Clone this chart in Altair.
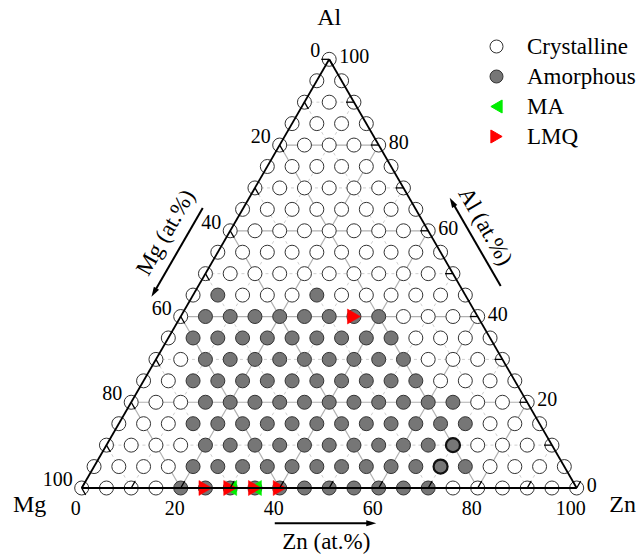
import numpy as np
import pandas as pd
import altair as alt

# ---------------- data ----------------
grid_step = 5  # compositions every 5 at.% (Mg = balance)
amorph_rows_al = [0, 5, 10, 15, 20, 25, 30, 35, 40, 45]
amorph_rows_zn = [
    [20, 25, 30, 35, 40, 45, 50, 55, 60, 65, 70],
    [20, 25, 30, 35, 40, 45, 50, 55, 60, 65, 70, 75],
    [20, 25, 30, 35, 40, 45, 50, 55, 60, 65, 70],
    [15, 20, 25, 30, 35, 40, 45, 50, 55, 60, 65, 70],
    [15, 20, 25, 30, 35, 40, 45, 50, 55, 60, 65],
    [10, 15, 20, 25, 30, 35, 40, 45, 50, 55],
    [10, 15, 20, 25, 30, 35, 40, 45, 50],
    [5, 10, 15, 20, 25, 30, 35, 40, 45],
    [5, 10, 15, 20, 25, 30, 35, 40],
    [5, 25],
]
bold_al = [5, 10]
bold_zn = [70, 70]
ma_al = [0, 0]
ma_zn = [30, 35]
lmq_al = [0, 0, 0, 0, 40]
lmq_zn = [25, 30, 35, 40, 35]

tick_values = [0, 20, 40, 60, 80, 100]
minor_ticks = [0, 10, 20, 30, 40, 50, 60, 70, 80, 90, 100]
grid_values = [10, 20, 30, 40, 50, 60, 70, 80, 90]
legend_labels = ["Crystalline", "Amorphous", "MA", "LMQ"]
vertex_labels = ["Mg", "Zn", "Al"]
axis_titles = ["Zn (at.%)", "Mg (at.%)", "Al (at.%)"]

# ---------------- geometry helpers ----------------
H = np.sqrt(3) / 2


def tx(al, zn):
    return zn + al / 2.0


def ty(al, zn):
    return al * H


PX = 4.95  # pixels per composition unit
X0, Y0 = 81.7, 488.0
W, HT = 639, 554
xs = alt.Scale(domain=[-X0 / PX, (W - X0) / PX], nice=False, zero=False)
ys = alt.Scale(domain=[-(HT - Y0) / PX, Y0 / PX], nice=False, zero=False)
FONT = "Liberation Serif"

amorph = {(a, z) for a, zs in zip(amorph_rows_al, amorph_rows_zn) for z in zs}
rows = []
for al in range(0, 101, grid_step):
    for zn in range(0, 101 - al, grid_step):
        rows.append(dict(X=tx(al, zn), Y=ty(al, zn),
                         cls="Amorphous" if (al, zn) in amorph else "Crystalline"))
pts = pd.DataFrame(rows)

mk = pd.DataFrame(
    [dict(X=tx(a, z), Y=ty(a, z), cls="MA") for a, z in zip(ma_al, ma_zn)]
    + [dict(X=tx(a, z), Y=ty(a, z), cls="LMQ") for a, z in zip(lmq_al, lmq_zn)]
)
bold = pd.DataFrame([dict(X=tx(a, z), Y=ty(a, z)) for a, z in zip(bold_al, bold_zn)])

gl = []
for v in grid_values:
    major = v % 20 == 0
    gl.append(dict(X=tx(v, 0), Y=ty(v, 0), X2=tx(v, 100 - v), Y2=ty(v, 100 - v), major=major))
    gl.append(dict(X=tx(0, v), Y=ty(0, v), X2=tx(100 - v, v), Y2=ty(100 - v, v), major=major))
    gl.append(dict(X=tx(0, 100 - v), Y=ty(0, 100 - v), X2=tx(100 - v, 0), Y2=ty(100 - v, 0), major=major))
gl = pd.DataFrame(gl)

edges = pd.DataFrame([
    dict(X=0, Y=0, X2=100, Y2=0),
    dict(X=0, Y=0, X2=50, Y2=100 * H),
    dict(X=100, Y=0, X2=50, Y2=100 * H),
])

L = 1.6
tk = []
for v in minor_ticks:
    x, y = tx(0, v), 0
    tk.append(dict(X=x, Y=y, X2=x + 0.5 * L, Y2=y + H * L))
    x, y = tx(v, 100 - v), ty(v, 100 - v)
    tk.append(dict(X=x, Y=y, X2=x - L, Y2=y))
    x, y = tx(100 - v, 0), ty(100 - v, 0)
    tk.append(dict(X=x, Y=y, X2=x + 0.5 * L, Y2=y - H * L))
tk = pd.DataFrame(tk)

zn_lab = pd.DataFrame([dict(X=tx(0, v), Y=0.0, t=str(v)) for v in tick_values])
al_lab = pd.DataFrame([dict(X=tx(v, 100 - v), Y=ty(v, 100 - v), t=str(v)) for v in tick_values])
mg_lab = pd.DataFrame([dict(X=tx(100 - v, 0), Y=ty(100 - v, 0), t=str(v)) for v in tick_values])

vtx = pd.DataFrame([
    dict(X=0, Y=0, t=vertex_labels[0], dx=-52, dy=17),
    dict(X=100, Y=0, t=vertex_labels[1], dx=46, dy=17),
    dict(X=50, Y=100 * H, t=vertex_labels[2], dx=0, dy=-41),
])

P_MG, P_ZN, P_AL = np.array([0.0, 0.0]), np.array([100.0, 0.0]), np.array([50.0, 100 * H])


def along(p0, p1, f, normal, off):
    return p0 + (p1 - p0) * f + normal * off


N_BOT = np.array([0.0, -1.0])
N_LEFT = np.array([-H, 0.5])
N_RIGHT = np.array([H, 0.5])
OFF_A = 7.1
arrows_def = [
    (P_MG, P_ZN, 0.39, 0.595, N_BOT, 0),
    (P_MG, P_AL, 0.612, 0.405, N_LEFT, 120),
    (P_ZN, P_AL, 0.43, 0.636, N_RIGHT, 240),
]
arr_lines, arr_heads = [], []
for p0, p1, ft, fh, nrm, ang in arrows_def:
    t = along(p0, p1, ft, nrm, OFF_A)
    h = along(p0, p1, fh, nrm, OFF_A)
    d = (h - t) / np.linalg.norm(h - t)
    hc = h - d * 1.0
    arr_lines.append(dict(X=t[0], Y=t[1], X2=hc[0], Y2=hc[1]))
    arr_heads.append(dict(X=hc[0], Y=hc[1], ang=ang))
arr_lines = pd.DataFrame(arr_lines)
arr_heads = pd.DataFrame(arr_heads)

ttl = []
for (p0, p1, f, nrm, off, ang), txt in zip(
        [(P_MG, P_ZN, 0.494, N_BOT, 10.85, 0),
         (P_MG, P_AL, 0.532, N_LEFT, 11.1, 300),
         (P_ZN, P_AL, 0.55, N_RIGHT, 10.4, 60)], axis_titles):
    p = along(p0, p1, f, nrm, off)
    ttl.append(dict(X=p[0], Y=p[1], t=txt, ang=ang))
ttl = pd.DataFrame(ttl)

# ---------------- chart ----------------
X = alt.X("X:Q", scale=xs, axis=None)
Y = alt.Y("Y:Q", scale=ys, axis=None)

grid_major = alt.Chart(gl[gl.major]).mark_rule(color="#b0b0b0", strokeWidth=1.2).encode(
    x=X, y=Y, x2="X2:Q", y2="Y2:Q")
grid_minor = alt.Chart(gl[~gl.major]).mark_rule(color="#cfcfcf", strokeWidth=1, strokeDash=[3, 3]).encode(
    x=X, y=Y, x2="X2:Q", y2="Y2:Q")

leg = alt.Legend(title=None, labelFont=FONT, labelFontSize=23, labelColor="black")
fill_enc = alt.Fill("cls:N", scale=alt.Scale(domain=legend_labels,
                    range=["#ffffff", "#767676", "#00ee00", "#ff0000"]), legend=leg)
stroke_enc = alt.Stroke("cls:N", scale=alt.Scale(domain=legend_labels,
                        range=["#333333", "#333333", "#00ee00", "#ff0000"]), legend=leg)
shape_enc = alt.Shape("cls:N", scale=alt.Scale(domain=legend_labels,
                      range=["circle", "circle", "triangle-left", "triangle-right"]), legend=leg)

circles = alt.Chart(pts).mark_point(filled=True, size=196, strokeWidth=1, opacity=1).encode(
    x=X, y=Y, fill=fill_enc, stroke=stroke_enc, shape=shape_enc)
bold_c = alt.Chart(bold).mark_point(filled=True, size=196, strokeWidth=2.2, opacity=1,
                                    fill="#767676", stroke="#111111", shape="circle").encode(x=X, y=Y)
markers = alt.Chart(mk).mark_point(filled=True, size=225, strokeWidth=0.5, opacity=1).encode(
    x=X, y=Y, fill=fill_enc, stroke=stroke_enc, shape=shape_enc)

edge_l = alt.Chart(edges).mark_rule(color="black", strokeWidth=1.8).encode(x=X, y=Y, x2="X2:Q", y2="Y2:Q")
tick_l = alt.Chart(tk).mark_rule(color="black", strokeWidth=1.3).encode(x=X, y=Y, x2="X2:Q", y2="Y2:Q")

zn_t = alt.Chart(zn_lab).mark_text(font=FONT, fontSize=20, dx=-6, dy=21, align="center",
                                   baseline="middle", color="black").encode(x=X, y=Y, text="t:N")
al_t = alt.Chart(al_lab).mark_text(font=FONT, fontSize=20, dx=10, dy=-2, align="left",
                                   baseline="middle", color="black").encode(x=X, y=Y, text="t:N")
mg_t = alt.Chart(mg_lab).mark_text(font=FONT, fontSize=20, dx=-9, dy=-8, align="right",
                                   baseline="middle", color="black").encode(x=X, y=Y, text="t:N")

vtx_layers = [
    alt.Chart(vtx.iloc[[i]]).mark_text(font=FONT, fontSize=24, dx=int(vtx.dx[i]), dy=int(vtx.dy[i]),
                                       align="center", baseline="middle", color="black").encode(x=X, y=Y, text="t:N")
    for i in range(3)
]

arr_l = alt.Chart(arr_lines).mark_rule(color="black", strokeWidth=2).encode(x=X, y=Y, x2="X2:Q", y2="Y2:Q")
arr_h = alt.Chart(arr_heads).mark_point(shape="M 1 0 L -1 -0.6 L -1 0.6 Z", size=100, filled=True,
                                        color="black", opacity=1).encode(x=X, y=Y, angle=alt.Angle("ang:Q", scale=None))

ttl_layers = [
    alt.Chart(ttl.iloc[[i]]).mark_text(font=FONT, fontSize=23, align="center", baseline="middle",
                                       color="black", angle=int(ttl.ang[i])).encode(x=X, y=Y, text="t:N")
    for i in range(3)
]

chart = alt.layer(
    grid_minor, grid_major, circles, bold_c, markers, edge_l, tick_l,
    zn_t, al_t, mg_t, *vtx_layers, arr_l, arr_h, *ttl_layers
).properties(
    width=W, height=HT, padding=0, autosize=alt.AutoSizeParams(type="none")
).configure(font=FONT).configure_view(stroke=None).configure_legend(
    orient="none", legendX=485, legendY=35, labelFont=FONT, labelFontSize=23, labelColor="black",
    symbolSize=169, symbolStrokeWidth=1, rowPadding=6, labelOffset=19, padding=0
)

chart.save("out.html", embed_options={"renderer": "svg", "actions": False})
